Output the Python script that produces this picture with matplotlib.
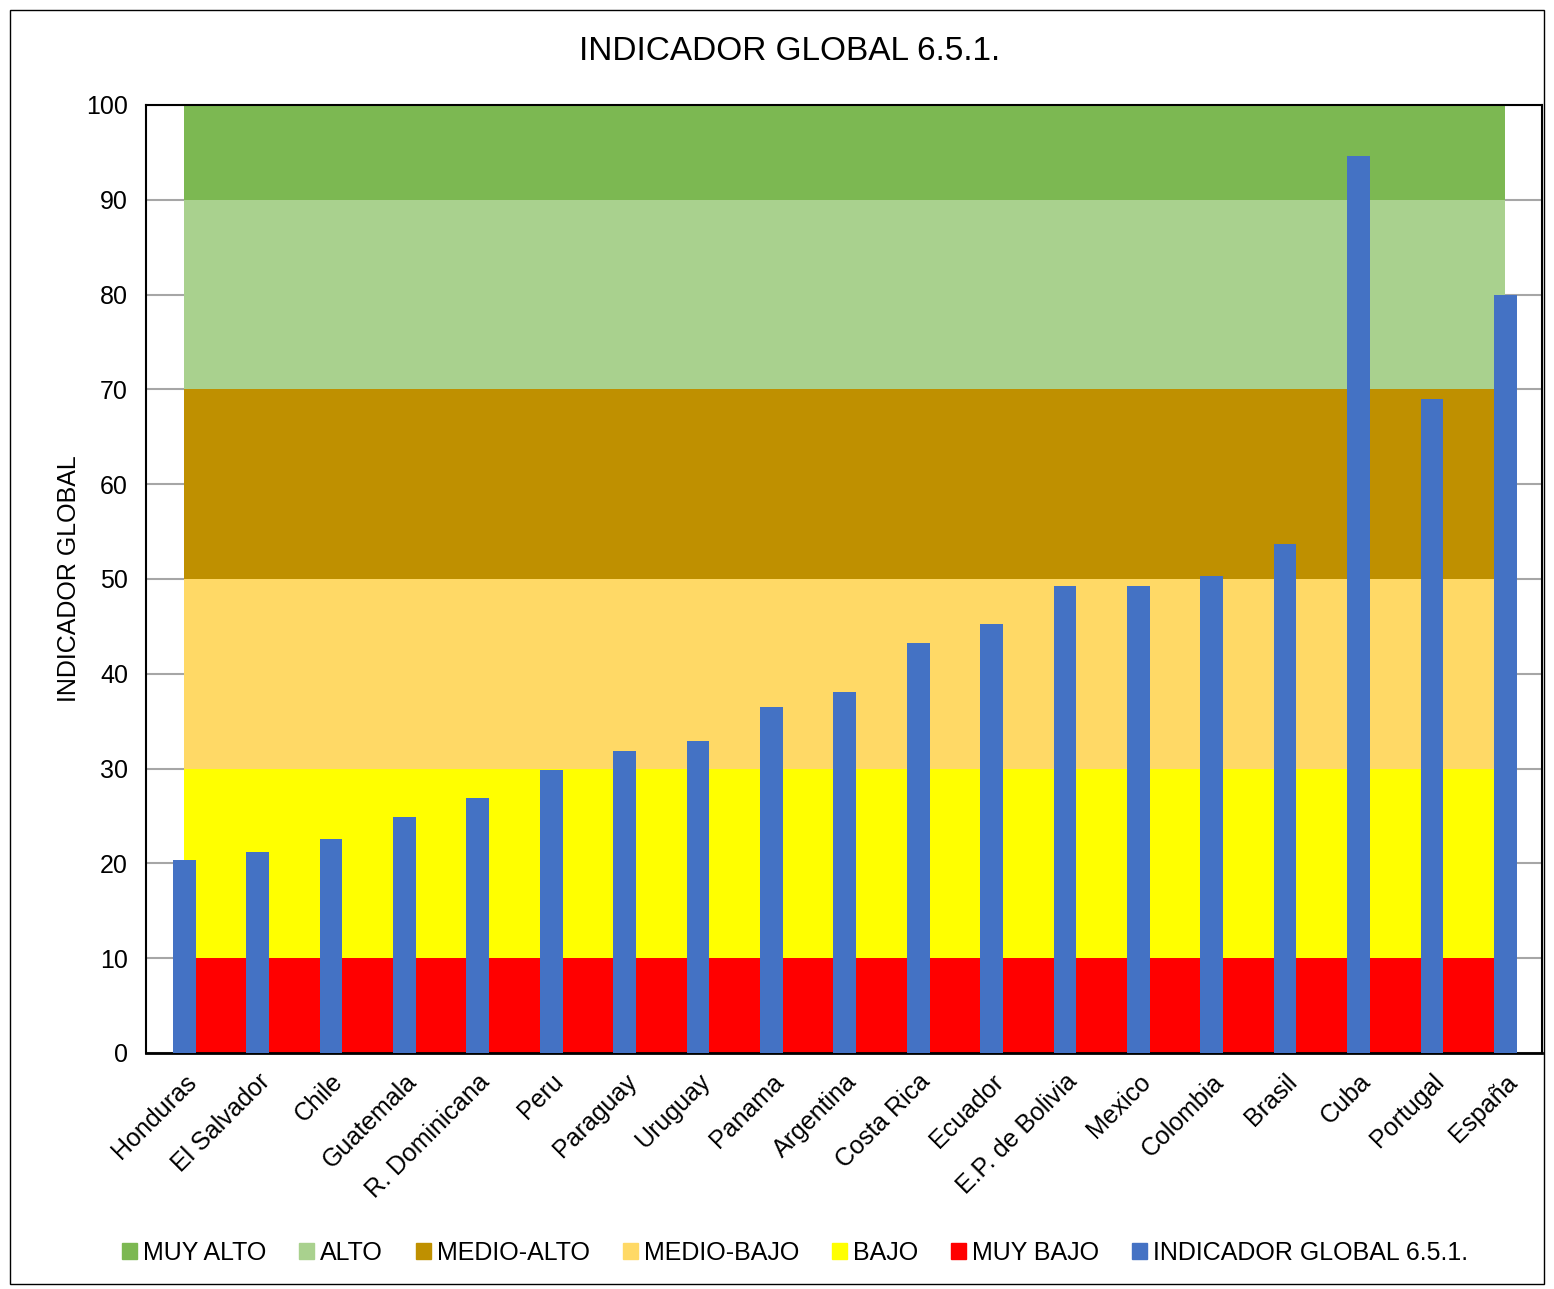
import numpy as np
import matplotlib
matplotlib.use("Agg")
import matplotlib.pyplot as plt
import matplotlib.patches as patches

plt.rcParams['font.family'] = ['Liberation Sans', 'DejaVu Sans']

# data
countries = ["Honduras", "El Salvador", "Chile", "Guatemala", "R. Dominicana", "Peru",
             "Paraguay", "Uruguay", "Panama", "Argentina", "Costa Rica", "Ecuador",
             "E.P. de Bolivia", "Mexico", "Colombia", "Brasil", "Cuba", "Portugal", "España"]
indicador = [20.4, 21.2, 22.6, 24.9, 26.9, 29.85, 31.9, 32.9, 36.5, 38.1,
             43.2, 45.3, 49.3, 49.3, 50.3, 53.7, 94.6, 69.0, 80.0]

# bands, bottom to top
band_names = ["MUY BAJO", "BAJO", "MEDIO-BAJO", "MEDIO-ALTO", "ALTO", "MUY ALTO"]
band_upper = [10, 30, 50, 70, 90, 100]
band_colors = ["#FF0000", "#FFFF00", "#FFD966", "#BF9000", "#A9D18E", "#7CB852"]
bar_color = "#4472C4"

fig = plt.figure(figsize=(15.54, 12.89), dpi=100)
ax = fig.add_axes([146/1554, 1 - 1053/1289, (1542-146)/1554, (1053-105)/1289])

x = np.arange(len(countries))

# stacked areas for the bands
lower = 0
heights = []
for up in band_upper:
    heights.append(np.full(len(x), up - lower, dtype=float))
    lower = up
polys = ax.stackplot(x, *heights, colors=band_colors, zorder=1, linewidth=0)

bars = ax.bar(x, indicador, width=0.31, color=bar_color, zorder=3)

ax.set_xlim(-0.52, 18.5)
ax.set_ylim(0, 100)
ax.set_yticks(range(0, 101, 10))
ax.yaxis.grid(True, color="#A6A6A6", linewidth=1.5, zorder=0)
ax.set_axisbelow(True)

ax.set_xticks(x)
ax.set_xticklabels(countries, rotation=45, ha="right", va="top",
                   rotation_mode="anchor", fontsize=18)
ax.tick_params(axis="both", length=0, labelsize=18)
ax.tick_params(axis="x", pad=12)
ax.tick_params(axis="y", pad=13)

for s in ax.spines.values():
    s.set_color("black")
    s.set_linewidth(1.5)
ax.spines["bottom"].set_linewidth(2)

ax.set_ylabel("INDICADOR GLOBAL", fontsize=18, labelpad=4)
fig.text(790/1554, 1 - 52/1289, "INDICADOR GLOBAL 6.5.1.", ha="center", va="center", fontsize=24)

# legend
handles = [patches.Patch(color=band_colors[i]) for i in range(len(band_colors) - 1, -1, -1)]
labels = band_names[::-1]
handles.append(patches.Patch(color=bar_color))
labels.append("INDICADOR GLOBAL 6.5.1.")
fig.legend(handles, labels, loc="center", bbox_to_anchor=(795/1554, 1 - 1253/1289), ncol=7,
           frameon=False, fontsize=18, handlelength=0.6, handleheight=0.6,
           handletextpad=0.25, columnspacing=1.3)

# outer border
fig.patches.append(patches.Rectangle((10/1554, 5/1289), 1534/1554, 1274/1289,
                                     transform=fig.transFigure, fill=False,
                                     edgecolor="black", linewidth=1))

fig.savefig("out.png", dpi=100)
